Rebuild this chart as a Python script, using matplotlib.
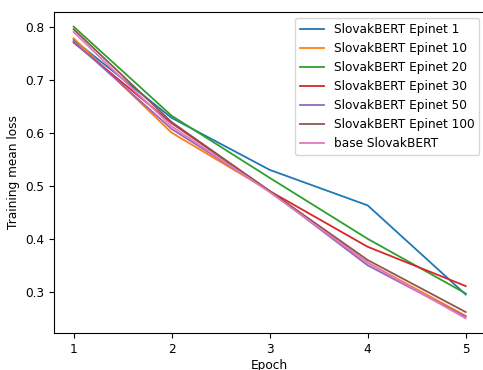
import matplotlib

matplotlib.use("Agg")
import matplotlib.pyplot as plt

epochs = [1, 2, 3, 4, 5]

epinet_1 = [0.775, 0.628, 0.530, 0.463, 0.295]
epinet_10 = [0.778, 0.600, 0.490, 0.355, 0.255]
epinet_20 = [0.800, 0.632, 0.515, 0.400, 0.297]
epinet_30 = [0.770, 0.618, 0.490, 0.385, 0.311]
epinet_50 = [0.772, 0.607, 0.490, 0.350, 0.253]
epinet_100 = [0.795, 0.620, 0.490, 0.360, 0.262]
base = [0.790, 0.612, 0.488, 0.355, 0.250]

series = [
  ("SlovakBERT Epinet 1", epinet_1),
  ("SlovakBERT Epinet 10", epinet_10),
  ("SlovakBERT Epinet 20", epinet_20),
  ("SlovakBERT Epinet 30", epinet_30),
  ("SlovakBERT Epinet 50", epinet_50),
  ("SlovakBERT Epinet 100", epinet_100),
  ("base SlovakBERT", base),
]

plt.rcParams["font.size"] = 8.7

fig = plt.figure(figsize=(4.83, 3.70), dpi=100)
ax = fig.add_axes([54 / 483, 1 - 333 / 370, (485.3 - 54) / 483, (333 - 12) / 370])
for name, vals in series:
  ax.plot(epochs, vals, label=name, linewidth=1.3)

ax.set_xticks(epochs)
ax.set_xlabel("Epoch", labelpad=2)
ax.set_ylabel("Training mean loss")
ax.legend(loc="upper right")

fig.savefig("out.png", dpi=100)
